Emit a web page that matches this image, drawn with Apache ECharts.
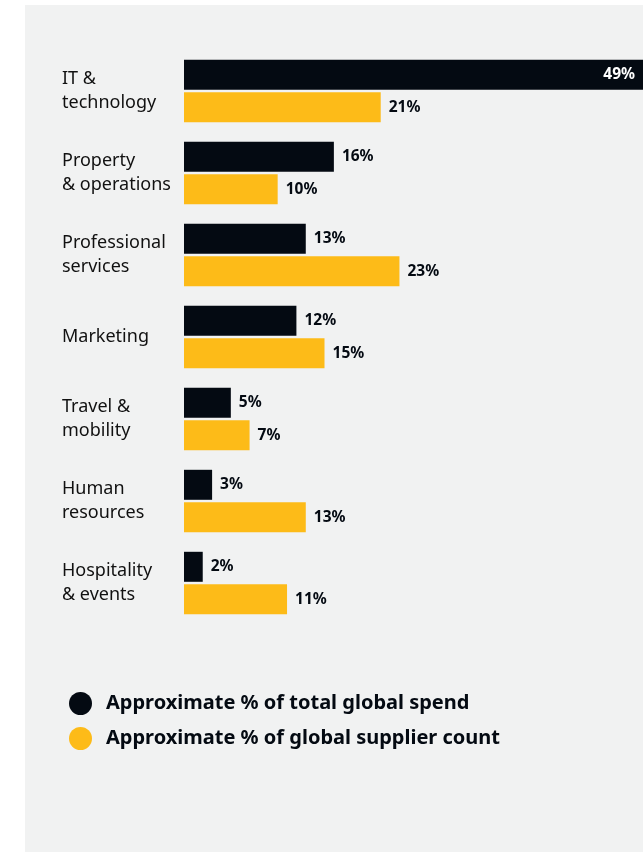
<!DOCTYPE html>
<html>
<head>
<meta charset="utf-8">
<script src="https://cdn.jsdelivr.net/npm/echarts@6/dist/echarts.min.js"></script>
<style>
html,body{margin:0;padding:0;background:#ffffff;}
#chart{width:643px;height:854px;}
</style>
</head>
<body>
<div id="chart"></div>
<script>
var categories = ['IT &\ntechnology','Property\n& operations','Professional\nservices','Marketing','Travel &\nmobility','Human\nresources','Hospitality\n& events'];
var spendShare = [49,16,13,12,5,3,2];
var supplierShare = [21,10,23,15,7,13,11];
var seriesNames = ['Approximate % of total global spend','Approximate % of global supplier count'];

var DARK = '#040a12', GOLD = '#fdbb18', FONT = '"Noto Sans", sans-serif';
var chart = echarts.init(document.getElementById('chart'));
var valueLabel = {show:true, position:'right', distance:8, color:DARK, fontFamily:FONT, fontWeight:'bold', fontSize:15.5, formatter:'{c}%'};

chart.setOption({
  backgroundColor:'transparent',
  animation:false,
  graphic:[{type:'rect', z:-10, shape:{x:25,y:5,width:618,height:847}, style:{fill:'#f1f2f2'}}],
  grid:{left:184, right:0, top:50, height:574, containLabel:false, outerBoundsMode:'none'},
  xAxis:{type:'value', min:0, max:49, show:false},
  yAxis:{type:'category', inverse:true, data:categories,
    axisLine:{show:false}, axisTick:{show:false},
    axisLabel:{align:'left', margin:122, color:'#111', fontFamily:FONT, fontSize:18, lineHeight:24}},
  legend:{orient:'vertical', left:64, top:687, itemWidth:23, itemHeight:23, itemGap:12, icon:'circle',
    textStyle:{color:DARK, fontFamily:FONT, fontWeight:'bold', fontSize:20, padding:[0,0,0,9]},
    data:seriesNames},
  series:[
    {name:seriesNames[0], type:'bar', barWidth:30, barGap:'8%', barCategoryGap:'24%',
      itemStyle:{color:DARK}, label:valueLabel,
      data:spendShare.map(function(v){
        return v > 40 ? {value:v, label:{position:'insideRight', color:'#ffffff', distance:8}} : v;
      })},
    {name:seriesNames[1], type:'bar', barWidth:30,
      itemStyle:{color:GOLD}, label:valueLabel, data:supplierShare}
  ]
});
</script>
</body>
</html>
